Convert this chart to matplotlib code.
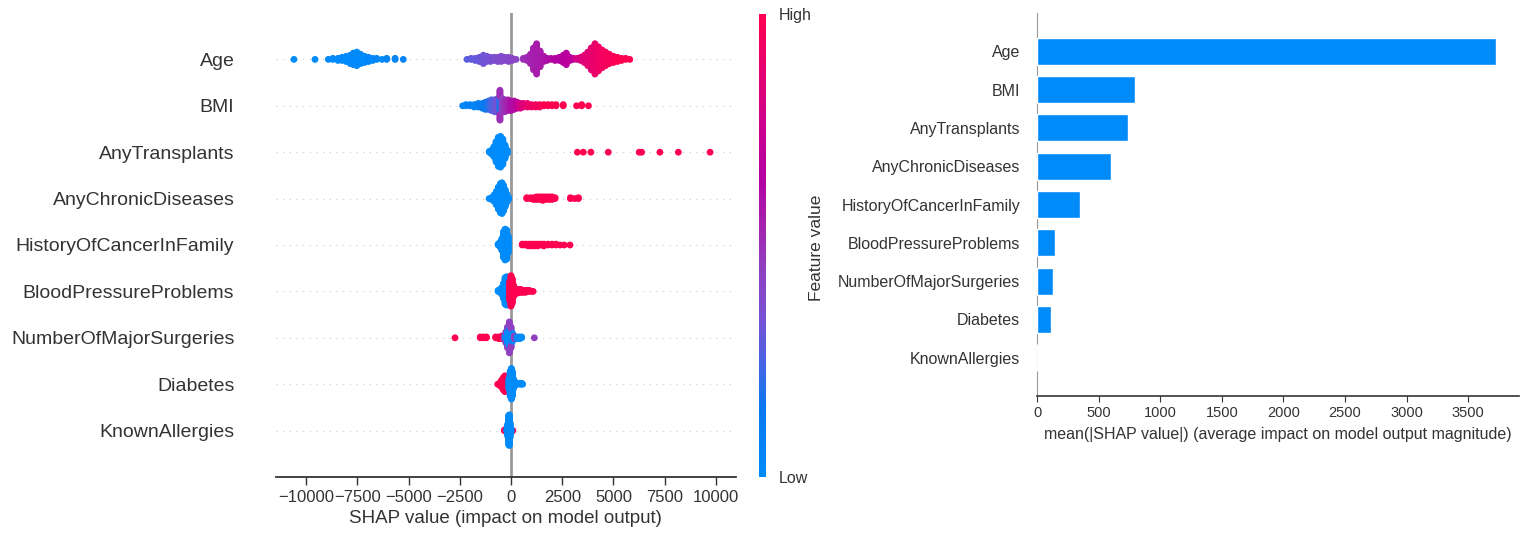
import numpy as np
import matplotlib
matplotlib.use('Agg')
import matplotlib.pyplot as plt
from matplotlib.colors import LinearSegmentedColormap, Normalize
from matplotlib.cm import ScalarMappable

plt.rcParams['font.family'] = ['Liberation Sans', 'DejaVu Sans']

# Features, most important first
features = ['Age', 'BMI', 'AnyTransplants', 'AnyChronicDiseases',
            'HistoryOfCancerInFamily', 'BloodPressureProblems',
            'NumberOfMajorSurgeries', 'Diabetes', 'KnownAllergies']

# mean(|SHAP value|) per feature
mean_abs_shap = [3727, 792, 740, 600, 347, 144, 133, 114, 0]

# Beeswarm groups: (SHAP value, number of samples, scaled feature value 0=low .. 1=high)
age_pts = [(-10600, 1, 0.0), (-9570, 1, 0.0), (-8920, 1, 0.02), (-8700, 2, 0.0),
           (-8450, 3, 0.0), (-8250, 4, 0.02), (-8050, 6, 0.0), (-7850, 9, 0.0),
           (-7700, 12, 0.03), (-7530, 14, 0.0), (-7350, 10, 0.02), (-7150, 7, 0.0),
           (-6950, 5, 0.04), (-6750, 3, 0.0), (-6560, 2, 0.05), (-6300, 1, 0.0),
           (-6070, 2, 0.05), (-5660, 2, 0.05), (-5260, 1, 0.06),
           (-2150, 1, 0.28), (-1950, 2, 0.3), (-1750, 3, 0.3), (-1550, 5, 0.32),
           (-1350, 9, 0.33), (-1180, 6, 0.33), (-1000, 5, 0.35), (-820, 4, 0.36),
           (-650, 5, 0.38), (-480, 6, 0.38), (-300, 4, 0.4), (-120, 5, 0.4),
           (60, 3, 0.42), (250, 1, 0.42),
           (600, 2, 0.5), (780, 4, 0.52), (950, 10, 0.54), (1100, 22, 0.55),
           (1250, 30, 0.56), (1420, 16, 0.57), (1600, 6, 0.58), (1760, 3, 0.6),
           (1950, 2, 0.62), (2150, 3, 0.64), (2350, 4, 0.65), (2550, 8, 0.66),
           (2700, 12, 0.67), (2880, 4, 0.68), (3050, 2, 0.7),
           (3220, 2, 0.8), (3400, 4, 0.82), (3580, 8, 0.85), (3750, 14, 0.86),
           (3920, 22, 0.88), (4100, 30, 0.9), (4270, 24, 0.92), (4450, 18, 0.94),
           (4620, 14, 0.95), (4800, 10, 0.96), (5000, 7, 0.98), (5200, 5, 1.0),
           (5400, 3, 1.0), (5600, 2, 1.0), (5800, 1, 1.0)]

bmi_pts = [(-2360, 1, 0.05), (-2200, 2, 0.05), (-2000, 2, 0.08), (-1800, 3, 0.05),
           (-1600, 4, 0.1), (-1400, 5, 0.12), (-1250, 7, 0.15), (-1100, 8, 0.2),
           (-950, 10, 0.25), (-800, 11, 0.3), (-650, 12, 0.35), (-540, 14, 0.2),
           (-540, 12, 0.5), (-420, 12, 0.45), (-300, 11, 0.5), (-150, 10, 0.55),
           (0, 9, 0.6), (150, 8, 0.62), (300, 6, 0.7), (450, 5, 0.8), (600, 4, 0.85),
           (800, 4, 0.9), (1000, 3, 0.92), (1200, 3, 0.95), (1400, 3, 0.95),
           (1600, 2, 1.0), (1800, 2, 1.0), (2000, 2, 1.0), (2200, 2, 1.0),
           (2550, 2, 1.0), (3200, 1, 1.0), (3450, 2, 1.0), (3780, 1, 1.0)]

transplant_pts = [(-1060, 2, 0), (-950, 5, 0), (-840, 12, 0), (-730, 24, 0),
                  (-620, 34, 0), (-510, 36, 0), (-400, 30, 0), (-290, 16, 0),
                  (-180, 4, 0),
                  (3240, 1, 1), (3530, 1, 1), (3900, 1, 1), (4750, 1, 1), (6260, 1, 1),
                  (6380, 1, 1), (7270, 1, 1), (8170, 1, 1), (9720, 1, 1)]

chronic_pts = [(-1070, 1, 0), (-950, 3, 0), (-830, 8, 0), (-720, 16, 0), (-620, 26, 0),
               (-520, 34, 0), (-440, 36, 0), (-360, 30, 0), (-280, 20, 0),
               (-200, 10, 0), (-120, 3, 0),
               (770, 2, 1), (950, 2, 1), (1100, 3, 1), (1250, 4, 1), (1400, 4, 1),
               (1550, 5, 1), (1700, 4, 1), (1850, 4, 1), (2000, 4, 1), (2150, 2, 1),
               (2900, 2, 1), (3100, 1, 1), (3290, 2, 1)]

cancer_pts = [(-630, 2, 0), (-540, 6, 0), (-450, 14, 0), (-370, 30, 0), (-290, 36, 0),
              (-210, 34, 0), (-140, 20, 0),
              (550, 2, 1), (700, 2, 1), (850, 3, 1), (1000, 3, 1), (1150, 3, 1),
              (1300, 3, 1), (1450, 2, 1), (1600, 3, 1), (1800, 2, 1), (2000, 2, 1),
              (2200, 2, 1), (2400, 1, 1), (2600, 1, 1), (2880, 1, 1)]

bp_pts = [(-630, 2, 0), (-540, 4, 0), (-450, 8, 0), (-370, 16, 0), (-290, 28, 0),
          (-210, 30, 0), (-130, 24, 0),
          (-60, 20, 1), (0, 32, 1), (60, 26, 1), (130, 12, 1), (200, 6, 1),
          (280, 5, 1), (380, 4, 1), (480, 4, 1), (580, 3, 1), (700, 3, 1),
          (800, 2, 1), (900, 2, 1), (1000, 1, 1), (1080, 1, 1)]

surgery_pts = [(-2734, 1, 1.0), (-1500, 2, 1.0), (-1350, 2, 1.0), (-1200, 2, 1.0),
               (-750, 2, 1.0), (-600, 3, 1.0), (-450, 4, 1.0), (-330, 4, 0.45),
               (-250, 10, 0.0), (-250, 4, 0.45), (-170, 22, 0.0), (-170, 4, 0.45),
               (-80, 28, 0.0), (-80, 10, 0.45), (0, 20, 0.0), (0, 6, 0.45),
               (80, 10, 0.0), (160, 4, 0.45), (300, 3, 0.0),
               (420, 3, 0.0), (520, 2, 0.0), (1140, 1, 0.45)]

diabetes_pts = [(-650, 1, 1), (-560, 3, 1), (-470, 8, 1), (-380, 14, 1), (-300, 18, 1),
                (-220, 16, 1), (-140, 10, 1),
                (-100, 12, 0), (-40, 28, 0), (20, 34, 0), (80, 26, 0), (140, 10, 0),
                (200, 4, 0), (300, 2, 0), (420, 2, 0), (520, 2, 0), (570, 1, 0)]

allergy_pts = [(-330, 1, 1), (-300, 2, 1), (-120, 2, 1), (60, 1, 1), (90, 1, 1),
               (-200, 4, 0), (-160, 14, 0), (-120, 30, 0), (-80, 34, 0),
               (-40, 16, 0), (0, 4, 0)]

swarm_data = [age_pts, bmi_pts, transplant_pts, chronic_pts, cancer_pts,
              bp_pts, surgery_pts, diabetes_pts, allergy_pts]

blue = '#008bfb'
red_blue = LinearSegmentedColormap.from_list('red_blue', [
    (0.0, '#008bfb'), (0.15, '#0a78ee'), (0.25, '#4a63e3'), (0.35, '#7a50d2'),
    (0.45, '#9040c0'), (0.55, '#a520ac'), (0.65, '#b500a2'), (0.78, '#d0008a'),
    (0.9, '#ea006a'), (1.0, '#ff0051')])
txt = '#333333'


def swarm_offsets(shaps, row_height=0.4, nbins=100):
    # stack points that fall in the same value bin, alternating up / down
    shaps = np.asarray(shaps, dtype=float)
    quant = np.round(nbins * (shaps - shaps.min()) / (shaps.max() - shaps.min() + 1e-8))
    ys = np.zeros(len(shaps))
    layer, last = 0, -1
    for i in np.argsort(quant, kind='stable'):
        if quant[i] != last:
            layer = 0
        ys[i] = np.ceil(layer / 2) * ((layer % 2) * 2 - 1)
        layer += 1
        last = quant[i]
    return ys * 0.9 * (row_height / np.max(ys + 1))


W, H = 1531, 543
fig = plt.figure(figsize=(W / 100, H / 100), dpi=100)

# ---- beeswarm summary ----
ax = fig.add_axes([276 / W, 1 - 477 / H, 459.5 / W, 464 / H])
n = len(features)
ax.axvline(0, color='#999999', lw=2, zorder=-1)
for k, pts in enumerate(swarm_data):
    pos = n - 1 - k
    ax.axhline(pos, color='#cccccc', lw=0.8, dashes=(1, 5), zorder=-1)
    vals = np.repeat([p[0] for p in pts], [p[1] for p in pts])
    lev = np.repeat([p[2] for p in pts], [p[1] for p in pts])
    ys = swarm_offsets(vals)
    ax.scatter(vals, pos + ys, c=lev, cmap=red_blue, vmin=0, vmax=1,
               s=24, linewidths=0, zorder=3)

ax.set_xlim(-11475, 10962)
ax.set_ylim(-1, n)
ax.set_xticks(np.arange(-10000, 10001, 2500))
ax.set_yticks(range(n)[::-1])
ax.set_yticklabels(features)
for s in ['top', 'right', 'left']:
    ax.spines[s].set_visible(False)
ax.spines['bottom'].set_color(txt)
ax.spines['bottom'].set_linewidth(1.3)
ax.tick_params('y', length=0, pad=30, labelsize=14, labelcolor=txt)
ax.tick_params('x', length=5.5, width=1, color=txt, labelsize=12, labelcolor=txt)
ax.set_xlabel('SHAP value (impact on model output)', fontsize=13.5, color=txt)

# colour bar
cax = fig.add_axes([759 / W, 1 - 477 / H, 7 / W, 463 / H])
cb = fig.colorbar(ScalarMappable(norm=Normalize(0, 1), cmap=red_blue), cax=cax, ticks=[0, 1])
cb.set_ticklabels(['Low', 'High'])
cb.outline.set_visible(False)
cb.ax.tick_params(length=0, pad=9.5, labelsize=11.5, labelcolor=txt)
fig.text(817 / W, 1 - 248 / H, 'Feature value', rotation=90, ha='center', va='center',
         fontsize=12.5, color=txt)

# ---- mean |SHAP| bar chart ----
ax2 = fig.add_axes([1037 / W, 1 - 396 / H, 482 / W, 383 / H])
ypos = np.arange(n)[::-1]
ax2.barh(ypos, mean_abs_shap, height=0.7, color=blue, edgecolor='white',
         linewidth=1, zorder=3)
ax2.set_ylim(-1, n)
ax2.set_yticks(ypos)
ax2.set_yticklabels(features)
ax2.spines['top'].set_visible(False)
ax2.spines['right'].set_visible(False)
ax2.spines['left'].set_color('#999999')
ax2.spines['bottom'].set_color(txt)
ax2.spines['bottom'].set_linewidth(1.2)
ax2.tick_params('y', length=0, pad=12, labelsize=11.5, labelcolor=txt)
ax2.tick_params('x', length=4, color=txt, labelsize=10.5, labelcolor=txt)
ax2.set_xlabel('mean(|SHAP value|) (average impact on model output magnitude)',
               fontsize=11.5, color=txt, labelpad=5)

fig.savefig('out.png', dpi=100)
